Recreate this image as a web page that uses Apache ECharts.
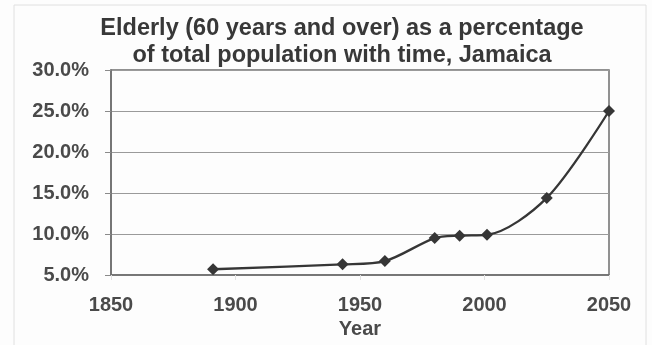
<!DOCTYPE html>
<html>
<head>
<meta charset="utf-8">
<script src="https://cdn.jsdelivr.net/npm/echarts@6/dist/echarts.min.js"></script>
<style>
  html, body { margin: 0; padding: 0; background: #fff; }
  #chart { width: 652px; height: 345px; }
</style>
</head>
<body>
<div id="chart"></div>
<script>
// Census / projection years and share of population aged 60+ (%)
const years = [1891, 1943, 1960, 1980, 1990, 2001, 2025, 2050];
const elderlyPct = [5.7, 6.3, 6.7, 9.5, 9.8, 9.9, 14.4, 25.0];
const yTicks = [5, 10, 15, 20, 25, 30];
const xTicks = [1850, 1900, 1950, 2000, 2050];

const chart = echarts.init(document.getElementById('chart'));
const FONT = 'Liberation Sans, Arial, sans-serif';
const labelFont = { fontFamily: FONT, fontWeight: 'bold', color: '#4a4a4a', fontSize: 20 };

chart.setOption({
  backgroundColor: '#fdfdfd',
  animation: false,
  title: {
    text: 'Elderly (60 years and over) as a percentage\nof total population with time, Jamaica',
    left: 337,
    top: 10,
    textAlign: 'center',
    textStyle: {
      fontFamily: FONT,
      fontWeight: 'bold',
      fontSize: 23.5,
      lineHeight: 27,
      color: '#383838'
    }
  },
  graphic: [{
    type: 'rect',
    shape: { x: 14, y: 5, width: 632, height: 345 },
    style: { fill: 'none', stroke: '#e0e0e0', lineWidth: 1 },
    silent: true
  }],
  grid: { left: 111, right: 43, top: 70, bottom: 70, show: true, borderColor: '#6e6e6e', borderWidth: 1.5 },
  xAxis: {
    type: 'value',
    min: xTicks[0],
    max: xTicks[xTicks.length - 1],
    interval: 50,
    name: 'Year',
    nameLocation: 'middle',
    nameGap: 33,
    nameTextStyle: Object.assign({}, labelFont),
    axisLine: { show: true, lineStyle: { color: '#6e6e6e', width: 1.5 } },
    axisTick: { show: true, length: 5, lineStyle: { color: '#e2e2e2' } },
    splitLine: { show: false },
    axisLabel: Object.assign({ margin: 20, formatter: v => String(v) }, labelFont)
  },
  yAxis: {
    type: 'value',
    min: yTicks[0],
    max: yTicks[yTicks.length - 1],
    interval: 5,
    axisLine: { show: true, lineStyle: { color: '#6e6e6e', width: 1.5 } },
    axisTick: { show: true, length: 6, lineStyle: { color: '#8a8a8a' } },
    splitLine: { show: true, lineStyle: { color: '#9a9a9a', width: 1 } },
    axisLabel: Object.assign({ margin: 22, formatter: v => v.toFixed(1) + '%' }, labelFont)
  },
  series: [{
    type: 'line',
    smooth: 0.3,
    data: years.map((y, i) => [y, elderlyPct[i]]),
    symbol: 'diamond',
    symbolSize: 12,
    lineStyle: { color: '#363636', width: 2.3 },
    itemStyle: { color: '#363636' }
  }]
});
</script>
</body>
</html>
